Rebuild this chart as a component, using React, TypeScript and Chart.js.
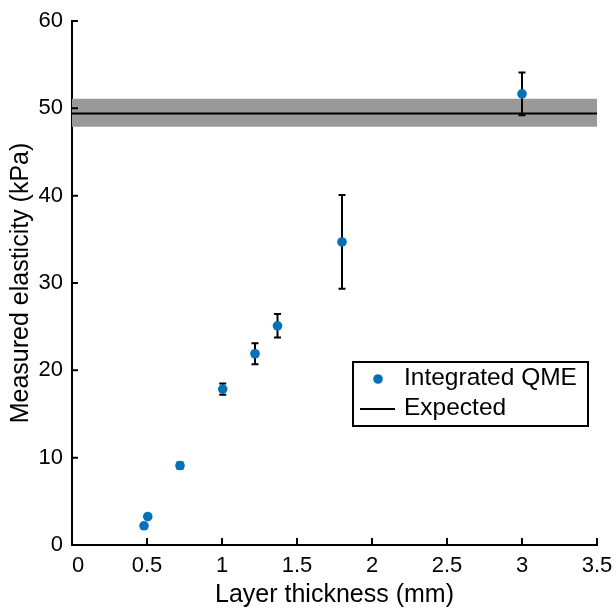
import React, { useEffect, useRef } from 'react';
import { Chart, registerables } from 'chart.js';

Chart.register(...registerables);

// ---- Data ----
const thickness = [0.48, 0.505, 0.72, 1.005, 1.22, 1.37, 1.8, 3.0];
const elasticity = [2.2, 3.25, 9.1, 17.85, 21.9, 25.1, 34.7, 51.65];
const errorHalf = [0.2, 0.2, 0.35, 0.65, 1.2, 1.35, 5.37, 2.45];
const expectedValue = 49.4;
const expectedLow = 47.9;
const expectedHigh = 51.1;
const xRange = [0, 3.5];
const yRange = [0, 60];
const xStep = 0.5;
const yStep = 10;
const seriesLabels = ['Integrated QME', 'Expected'];
const xTitle = 'Layer thickness (mm)';
const yTitle = 'Measured elasticity (kPa)';

const FONT = '"Liberation Sans", Arial, Helvetica, sans-serif';
const BLUE = '#0072BD';

const errorBarPlugin = {
  id: 'errorBars',
  beforeDatasetDraw(chart: any, args: any) {
    if (args.index !== 0) return;
    const { ctx, scales } = chart;
    const xs = scales.x;
    const ys = scales.y;
    ctx.save();
    ctx.strokeStyle = '#000';
    ctx.lineWidth = 2;
    const cap = 3.5;
    for (let i = 0; i < thickness.length; i++) {
      const px = xs.getPixelForValue(thickness[i]);
      const top = ys.getPixelForValue(elasticity[i] + errorHalf[i]);
      const bot = ys.getPixelForValue(elasticity[i] - errorHalf[i]);
      ctx.beginPath();
      ctx.moveTo(px, top);
      ctx.lineTo(px, bot);
      ctx.moveTo(px - cap, top);
      ctx.lineTo(px + cap, top);
      ctx.moveTo(px - cap, bot);
      ctx.lineTo(px + cap, bot);
      ctx.stroke();
    }
    ctx.restore();
  },
};

const innerTicksPlugin = {
  id: 'innerTicks',
  afterDraw(chart: any) {
    const { ctx, scales, chartArea } = chart;
    ctx.save();
    ctx.strokeStyle = '#000';
    ctx.lineWidth = 2;
    ctx.beginPath();
    scales.x.ticks.forEach((t: any) => {
      const px = scales.x.getPixelForValue(t.value);
      ctx.moveTo(px, chartArea.bottom);
      ctx.lineTo(px, chartArea.bottom - 7);
    });
    scales.y.ticks.forEach((t: any) => {
      const py = scales.y.getPixelForValue(t.value);
      ctx.moveTo(chartArea.left, py);
      ctx.lineTo(chartArea.left + 6, py);
    });
    ctx.stroke();
    ctx.restore();
  },
};

const legendPlugin = {
  id: 'boxLegend',
  afterDraw(chart: any) {
    const { ctx } = chart;
    const left = 353, top = 362, w = 235, h = 64;
    ctx.save();
    ctx.fillStyle = '#fff';
    ctx.fillRect(left, top, w, h);
    ctx.strokeStyle = '#000';
    ctx.lineWidth = 2;
    ctx.strokeRect(left, top, w, h);
    // row 1: marker
    const r1 = top + 16;
    const r2 = top + 46;
    ctx.fillStyle = BLUE;
    ctx.beginPath();
    ctx.arc(left + 25, r1 + 1, 4.8, 0, Math.PI * 2);
    ctx.fill();
    // row 2: line
    ctx.strokeStyle = '#000';
    ctx.lineWidth = 2;
    ctx.beginPath();
    ctx.moveTo(left + 7, r2 + 1);
    ctx.lineTo(left + 42, r2 + 1);
    ctx.stroke();
    ctx.fillStyle = '#000';
    ctx.font = `24.5px ${FONT}`;
    ctx.textBaseline = 'middle';
    ctx.textAlign = 'left';
    ctx.fillText(seriesLabels[0], left + 51, r1);
    ctx.fillText(seriesLabels[1], left + 51, r2);
    ctx.restore();
  },
};

export default function App() {
  const ref = useRef<HTMLCanvasElement | null>(null);

  useEffect(() => {
    if (!ref.current) return;
    const chart = new Chart(ref.current, {
      type: 'scatter',
      data: {
        datasets: [
          {
            label: seriesLabels[0],
            data: thickness.map((x, i) => ({ x, y: elasticity[i] })),
            backgroundColor: BLUE,
            borderWidth: 0,
            pointRadius: 4.8,
            showLine: false,
          },
          {
            label: seriesLabels[1],
            data: xRange.map((x) => ({ x, y: expectedValue })),
            borderColor: '#000',
            borderWidth: 2,
            pointRadius: 0,
            showLine: true,
            fill: false,
          },
          {
            label: 'band-high',
            data: xRange.map((x) => ({ x, y: expectedHigh })),
            borderWidth: 0,
            borderColor: 'rgba(0,0,0,0)',
            backgroundColor: '#999999',
            pointRadius: 0,
            showLine: true,
            fill: '+1',
          },
          {
            label: 'band-low',
            data: xRange.map((x) => ({ x, y: expectedLow })),
            borderWidth: 0,
            borderColor: 'rgba(0,0,0,0)',
            pointRadius: 0,
            showLine: true,
            fill: false,
          },
        ],
      },
      options: {
        animation: false,
        responsive: false,
        events: [],
        layout: { padding: { left: 0, top: 21, right: 19, bottom: 0 } },
        plugins: {
          legend: { display: false },
          tooltip: { enabled: false },
        },
        scales: {
          x: {
            type: 'linear',
            min: xRange[0],
            max: xRange[1],
            grid: { display: false, drawTicks: false },
            border: { display: true, color: '#000', width: 2 },
            ticks: {
              stepSize: xStep,
              padding: 8,
              color: '#000',
              font: { family: FONT, size: 22 },
              maxRotation: 0,
              callback: (v: any) => (Number(v) === 0 ? '  0' : String(v)),
            },
            title: {
              display: true,
              text: xTitle,
              color: '#000',
              font: { family: FONT, size: 25, lineHeight: 1 },
              padding: { top: 0, bottom: 0 },
            },
            afterFit: (s: any) => {
              s.height = 63;
              s.paddingLeft = 0;
              s.paddingRight = 0;
              s.paddingTop = 0;
              s.paddingBottom = 0;
            },
          },
          y: {
            type: 'linear',
            min: yRange[0],
            max: yRange[1],
            grid: { display: false, drawTicks: false },
            border: { display: true, color: '#000', width: 2 },
            ticks: {
              stepSize: yStep,
              padding: 9,
              color: '#000',
              font: { family: FONT, size: 22 },
            },
            title: {
              display: true,
              text: yTitle,
              color: '#000',
              font: { family: FONT, size: 25, lineHeight: 1 },
              padding: { top: 8.5, bottom: 0 },
            },
            afterFit: (s: any) => {
              s.width = 72;
              s.paddingLeft = 0;
              s.paddingRight = 0;
              s.paddingTop = 0;
              s.paddingBottom = 0;
            },
          },
        },
      },
      plugins: [errorBarPlugin, innerTicksPlugin, legendPlugin],
    } as any);
    return () => chart.destroy();
  }, []);

  return (
    <div style={{ position: 'absolute', left: 0, top: 0, width: 616, height: 608 }}>
      <canvas ref={ref} width={616} height={608} style={{ width: 616, height: 608, display: 'block' }} />
    </div>
  );
}
